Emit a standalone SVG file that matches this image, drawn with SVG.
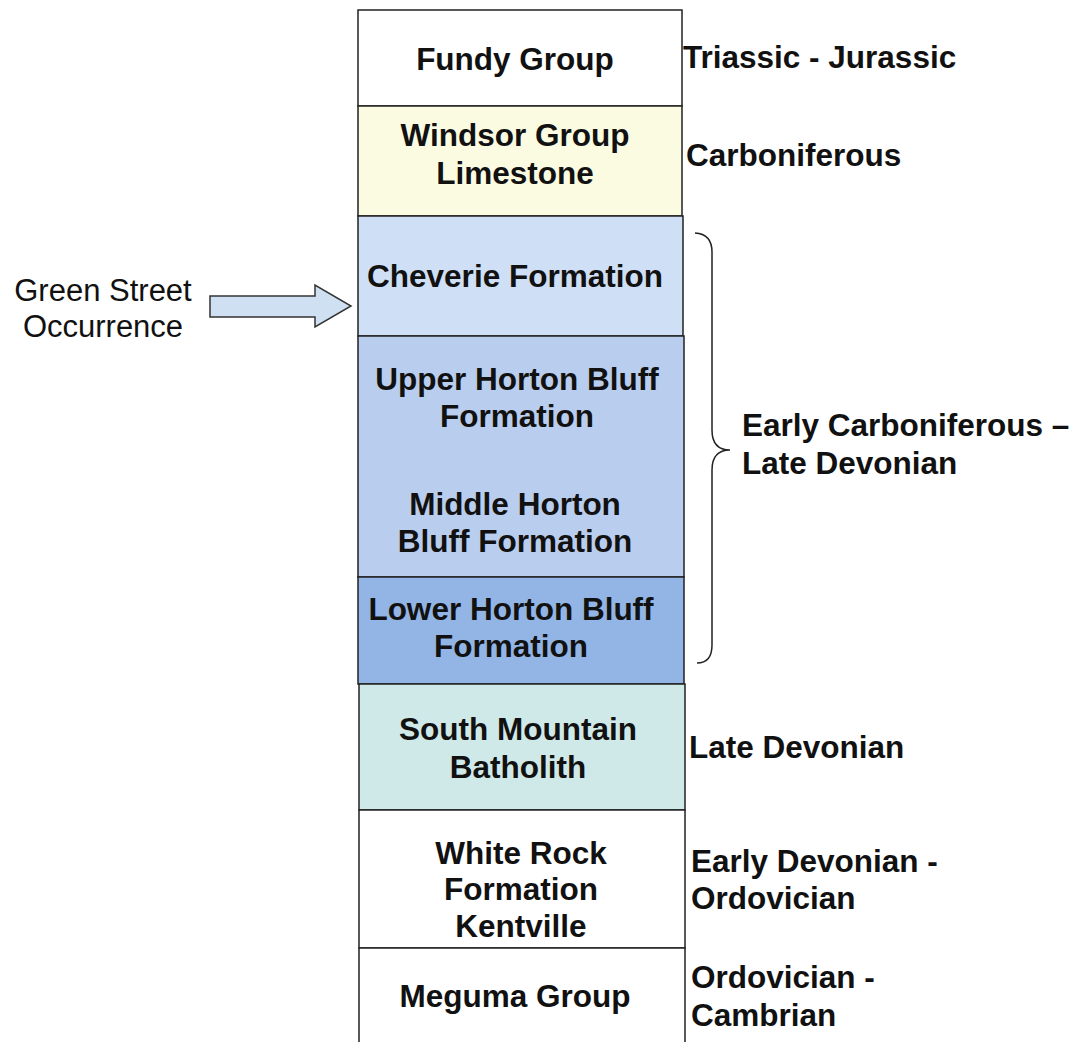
<svg xmlns="http://www.w3.org/2000/svg" width="1087" height="1042" viewBox="0 0 1087 1042">
<style>
.box{stroke:#222;stroke-width:1.5}
.t{font-family:"Liberation Sans",Arial,sans-serif;font-weight:bold;font-size:31.5px;fill:#111;text-anchor:middle}
.r{font-family:"Liberation Sans",Arial,sans-serif;font-weight:bold;font-size:31.5px;fill:#111}
.n{font-family:"Liberation Sans",Arial,sans-serif;font-size:31px;fill:#111;text-anchor:middle}
</style>
<rect width="1087" height="1042" fill="#fff"/>
<g id="fundy"><rect class="box" x="358" y="10" width="324" height="96" fill="#ffffff"/><text class="t" x="515" y="70">Fundy Group</text></g>
<g id="windsor"><rect class="box" x="358" y="106" width="324" height="110" fill="#fbfbe2"/><text class="t" x="515" y="146">Windsor Group</text><text class="t" x="515" y="184">Limestone</text></g>
<g id="cheverie"><rect class="box" x="358" y="216" width="325" height="120" fill="#cfdff6"/><text class="t" x="515" y="287">Cheverie Formation</text></g>
<g id="horton"><rect class="box" x="358" y="336" width="326" height="241" fill="#b9cdef"/><text class="t" x="517" y="390">Upper Horton Bluff</text><text class="t" x="517" y="427">Formation</text><text class="t" x="515" y="515">Middle Horton</text><text class="t" x="515" y="552">Bluff Formation</text></g>
<g id="lower"><rect class="box" x="358" y="577" width="326" height="107" fill="#92b5e6"/><text class="t" x="511" y="620">Lower Horton Bluff</text><text class="t" x="511" y="657">Formation</text></g>
<g id="southmtn"><rect class="box" x="359" y="684" width="326" height="126" fill="#cfe8e8"/><text class="t" x="518" y="740">South Mountain</text><text class="t" x="518" y="778">Batholith</text></g>
<g id="whiterock"><rect class="box" x="359" y="810" width="326" height="138" fill="#ffffff"/><text class="t" x="521" y="864">White Rock</text><text class="t" x="521" y="900">Formation</text><text class="t" x="521" y="937">Kentville</text></g>
<g id="meguma"><path class="box" d="M359,1044 V948 H685 V1044" fill="#ffffff"/><text class="t" x="515" y="1007">Meguma Group</text></g>
<g id="ages">
<text class="r" x="683" y="68">Triassic - Jurassic</text>
<text class="r" x="686" y="166">Carboniferous</text>
<text class="r" x="742" y="436">Early Carboniferous –</text>
<text class="r" x="742" y="474">Late Devonian</text>
<text class="r" x="689" y="758">Late Devonian</text>
<text class="r" x="691" y="872">Early Devonian -</text>
<text class="r" x="691" y="909">Ordovician</text>
<text class="r" x="691" y="988">Ordovician -</text>
<text class="r" x="691" y="1026">Cambrian</text>
</g>
<g id="occurrence"><text class="n" x="103" y="301">Green Street</text><text class="n" x="103" y="337">Occurrence</text></g>
<g id="connectors">
<path d="M210,296 H315 V285 L351,306 L315,327 V317 H210 Z" fill="#cfe0f3" stroke="#333" stroke-width="1.5"/>
<path d="M695,233 Q712,234 712,252 V430 Q712,450 730,450 Q712,450 712,470 V645 Q712,663 697,663" fill="none" stroke="#222" stroke-width="1.5"/>
</g>
</svg>
